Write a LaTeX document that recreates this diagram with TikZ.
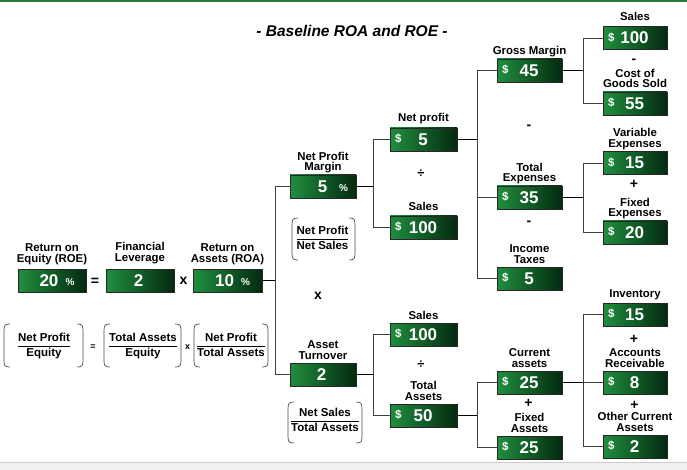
\documentclass[tikz,border=0pt]{standalone}
\usepackage{fontspec}
\setmainfont{Liberation Sans}
\usetikzlibrary{calc}
\definecolor{gA}{RGB}{32,142,62}
\definecolor{gM}{RGB}{20,112,45}
\definecolor{gB}{RGB}{3,42,16}
\definecolor{topg}{RGB}{40,120,60}
\newcommand\gbd[5]{%
  \node[gbox,minimum width=#4] (#1) at (#2,#3) {};
  \node[dolsym] at ([xshift=8.5pt,yshift=0.5pt]#1.west) {\$};
  \node[valtxt] at ([xshift=-0.5pt]#1.center) {#5};}
\newcommand\gbn[5]{%
  \node[gbox,minimum width=#4] (#1) at (#2,#3) {};
  \node[valtxt] at ([xshift=-1.5pt]#1.center) {#5};}
\newcommand\gbp[6]{%
  \node[gbox,minimum width=#4] (#1) at (#2,#3) {};
  \node[valtxt] at ([xshift=#6pt]#1.center) {#5};}
\newcommand\brkt[4]{%
  \draw[brk] (#1+6,#3) .. controls (#1+1,#3) and (#1,#3+1) .. (#1,#3+7) -- (#1,#4-7) .. controls (#1,#4-1) and (#1+1,#4) .. (#1+6,#4);
  \draw[brk] (#2-6,#3) .. controls (#2-1,#3) and (#2,#3+1) .. (#2,#3+7) -- (#2,#4-7) .. controls (#2,#4-1) and (#2-1,#4) .. (#2-6,#4);}
\begin{document}
\begin{tikzpicture}[x=1pt,y=-1pt,
  gbox/.style={rectangle, minimum height=23pt, inner sep=0pt, draw=black!85, line width=0.6pt, left color=gA, middle color=gM, right color=gB},
  dolsym/.style={text=white, font=\bfseries\fontsize{11.5}{11.5}\selectfont, inner sep=0pt},
  valtxt/.style={text=white, font=\bfseries\fontsize{17}{17}\selectfont, inner sep=0pt},
  pct/.style={text=white, font=\bfseries\fontsize{10}{10}\selectfont, inner sep=0pt},
  lbl/.style={font=\bfseries\fontsize{11.4}{10.7}\selectfont, align=center, inner sep=0pt, anchor=south, text depth=2.5pt, yshift=1pt},
  op/.style={font=\bfseries\fontsize{14}{14}\selectfont, inner sep=0pt},
  smop/.style={font=\bfseries\fontsize{9}{9}\selectfont, inner sep=0pt},
  divop/.style={font=\bfseries\fontsize{13}{13}\selectfont, inner sep=0pt},
  stub/.style={line width=1.4pt, black},
  tree/.style={line width=0.8pt, black!75},
  frac/.style={font=\bfseries\fontsize{11.5}{11.5}\selectfont, inner sep=0pt},
  brk/.style={line width=0.7pt, black!70},
]
\useasboundingbox (0,0) rectangle (687,470);
\fill[white] (0,0) rectangle (687,470);
\fill[topg] (0,0) rectangle (687,1.8);
\fill[black!6] (0,463) rectangle (687,470);
\draw[black!20, line width=0.6pt] (0,462.5) -- (687,462.5);

\node[font=\bfseries\itshape\fontsize{15.5}{16}\selectfont, inner sep=0pt] (title) at (352,31) {- Baseline ROA and ROE -};

% boxes
\gbp{roe}{52}{280.5}{68}{20}{-3}
\node[pct] at ([xshift=18pt,yshift=-1.5pt]roe.center) {\%};
\gbn{lev}{140}{280.5}{68}{2}
\gbp{roa}{227.5}{280.5}{69}{10}{-3}
\node[pct] at ([xshift=18pt,yshift=-1.5pt]roa.center) {\%};
\gbp{npm}{323}{186.5}{66}{5}{-0.5}
\node[pct] at ([xshift=20.5pt,yshift=-1.5pt]npm.center) {\%};
\gbn{at}{323}{374.5}{66}{2}
\gbd{np}{423.5}{139.5}{67}{5}
\gbd{sa}{423.5}{227.5}{67}{100}
\gbd{sb}{423.5}{334.5}{67}{100}
\gbd{ta}{423.5}{415.5}{67}{50}
\gbd{gm}{529.5}{70.5}{65}{45}
\gbd{te}{529.5}{197.5}{65}{35}
\gbd{it}{529.5}{278.5}{65}{5}
\gbd{ca}{529.5}{382.5}{65}{25}
\gbd{fa}{529.5}{447.5}{65}{25}
\gbd{sc}{635}{38}{64}{100}
\gbd{cogs}{635}{103.5}{64}{55}
\gbd{ve}{635}{163}{64}{15}
\gbd{fe}{635}{232.5}{64}{20}
\gbd{inv}{635}{314.5}{64}{15}
\gbd{ar}{635}{382.5}{64}{8}
\gbd{oca}{635}{446.5}{64}{2}

% labels
\node[lbl,yshift=3pt] at (roe.north) {Return on\\Equity (ROE)};
\node[lbl,yshift=4pt] at (lev.north) {Financial\\Leverage};
\node[lbl,yshift=2.5pt] at (roa.north) {Return on\\Assets (ROA)};
\node[lbl] at (npm.north) {Net Profit\\Margin};
\node[lbl] at (at.north) {Asset\\Turnover};
\node[lbl,yshift=2pt] at (np.north) {Net profit};
\node[lbl,yshift=1pt] at (sa.north) {Sales};
\node[lbl] at (sb.north) {Sales};
\node[lbl] at (ta.north) {Total\\Assets};
\node[lbl] at (gm.north) {Gross Margin};
\node[lbl] at (te.north) {Total\\Expenses};
\node[lbl] at (it.north) {Income\\Taxes};
\node[lbl] at (ca.north) {Current\\assets};
\node[lbl] at (fa.north) {Fixed\\Assets};
\node[lbl,yshift=2pt] at (sc.north) {Sales};
\node[lbl] at (cogs.north) {Cost of\\Goods Sold};
\node[lbl] at (ve.north) {Variable\\Expenses};
\node[lbl] at (fe.north) {Fixed\\Expenses};
\node[lbl,yshift=2pt] at (inv.north) {Inventory};
\node[lbl] at (ar.north) {Accounts\\Receivable};
\node[lbl] at (oca.north) {Other Current\\Assets};

% operators
\node[op] (eq1) at (95,281.5) {=};
\node[op] (x1) at (183.5,280.5) {x};
\node[op] (x2) at (318,296) {x};
\node[smop] (eq2) at (93,347) {=};
\node[smop] (x3) at (187.5,347) {x};
\node[divop] (d1) at (421,174) {÷};
\node[divop] (d2) at (421,365) {÷};
\node[op] (m1) at (529,127.5) {-};
\node[op] (m2) at (529,223) {-};
\node[op] (m3) at (634,61) {-};
\node[op] (p1) at (634,184) {+};
\node[op] (p2) at (634,339) {+};
\node[op] (p3) at (634.5,405) {+};
\node[op] (p4) at (528.5,403.5) {+};

% fractions
\renewcommand\arraystretch{1.2}
\setlength\arrayrulewidth{0.8pt}
\node[frac] (f1) at (44,346) {\begin{tabular}{@{}c@{}}Net Profit\\\hline Equity\end{tabular}};
\node[frac] (f2) at (143,346) {\begin{tabular}{@{}c@{}}Total Assets\\\hline Equity\end{tabular}};
\node[frac] (f3) at (231,346) {\begin{tabular}{@{}c@{}}Net Profit\\\hline Total Assets\end{tabular}};
\node[frac] (f4) at (322.5,239) {\begin{tabular}{@{}c@{}}Net Profit\\\hline Net Sales\end{tabular}};
\node[frac] (f5) at (325,421.5) {\begin{tabular}{@{}c@{}}Net Sales\\\hline Total Assets\end{tabular}};
\brkt{4}{83}{324}{367}
\brkt{104}{181}{324}{367}
\brkt{194}{268}{324}{367}
\brkt{292}{355}{218}{260}
\brkt{288}{362}{402}{443}

% connectors
\draw[stub] (roa.east) -- ++(13,0) coordinate (j0);
\draw[tree] (npm.west) -| (j0) |- (at.west);
\draw[stub] (npm.east) -- ++(17,0) coordinate (j1);
\draw[tree] (np.west) -| (j1) |- (sa.west);
\draw[stub] (at.east) -- ++(17,0) coordinate (j2);
\draw[tree] (sb.west) -| (j2) |- (ta.west);
\draw[stub] (np.east) -- ++(20,0) coordinate (j3);
\draw[tree] (gm.west) -| (j3) |- (it.west);
\draw[tree] (te.west) -- (te.west -| j3);
\draw[stub] (gm.east) -- ++(21,0) coordinate (j4);
\draw[tree] (sc.west) -| (j4) |- (cogs.west);
\draw[stub] (te.east) -- ++(21,0) coordinate (j5);
\draw[tree] (ve.west) -| (j5) |- (fe.west);
\draw[stub] (ta.east) -- ++(20,0) coordinate (j6);
\draw[tree] (ca.west) -| (j6) |- (fa.west);
\draw[stub] (ca.east) -- ++(21,0) coordinate (j7);
\draw[tree] (inv.west) -| (j7) |- (oca.west);
\draw[tree] (ar.west) -- (ar.west -| j7);
\end{tikzpicture}
\end{document}
